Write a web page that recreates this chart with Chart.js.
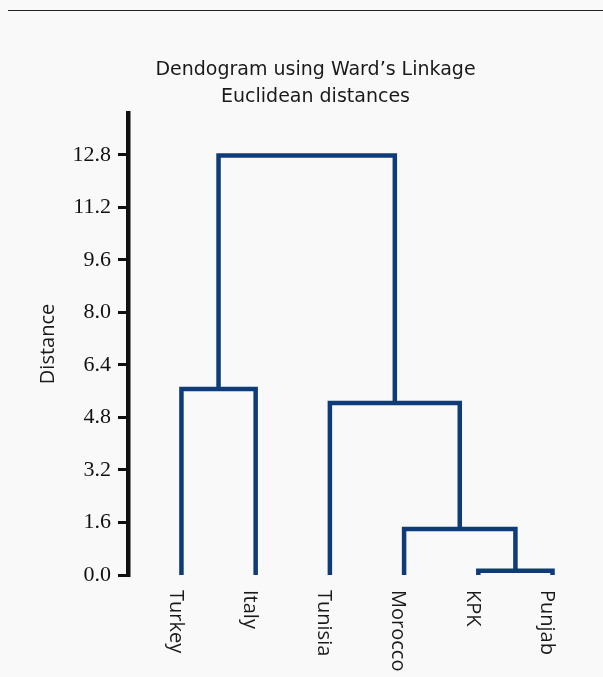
<!DOCTYPE html>
<html>
<head>
<meta charset="utf-8">
<script src="https://cdn.jsdelivr.net/npm/chart.js@4/dist/chart.umd.min.js"></script>
<style>
    body { margin: 0; background: #f9f9f9; }
    #wrap { position: relative; width: 603px; height: 677px; }
    #topRule { position: absolute; top: 10px; left: 8px; right: 0; height: 1px; background: #222; }
    #chart { position: absolute; top: 0; left: 0; }
</style>
</head>
<body>
<div id="wrap">
    <div id="topRule"></div>
    <canvas id="chart" width="603" height="677"></canvas>
</div>
<script>
// Leaves, left to right
const leaves = ["Turkey", "Italy", "Tunisia", "Morocco", "KPK", "Punjab"];

// Linkage: new clusters are numbered after the leaves (6, 7, 8, ...)
const mergeLeft = [4, 3, 2, 0, 9];
const mergeRight = [5, 6, 7, 1, 8];
const mergeHeight = [0.13, 1.40, 5.24, 5.67, 12.78];

// Y axis ticks
const yTicks = [0.0, 1.6, 3.2, 4.8, 6.4, 8.0, 9.6, 11.2, 12.8];

const lineColor = "#0f3c78";

// Work out x position and height of every node
let nodeX = leaves.map((l, i) => i);
let nodeH = leaves.map(() => 0);
let datasets = [];
for (let j = 0; j < mergeLeft.length; j++) {
    const a = mergeLeft[j];
    const b = mergeRight[j];
    const h = mergeHeight[j];
    datasets.push({
        data: [
            { x: nodeX[a], y: nodeH[a] },
            { x: nodeX[a], y: h },
            { x: nodeX[b], y: h },
            { x: nodeX[b], y: nodeH[b] }
        ],
        showLine: true,
        fill: false,
        tension: 0,
        pointRadius: 0,
        borderWidth: 4.5,
        borderColor: lineColor,
        borderJoinStyle: "miter",
        borderCapStyle: "butt"
    });
    nodeX.push((nodeX[a] + nodeX[b]) / 2);
    nodeH.push(h);
}

// Leaf names, written top to bottom under each leaf
const leafLabels = {
    id: "leafLabels",
    afterDraw(chart) {
        const ctx = chart.ctx;
        const xScale = chart.scales.x;
        const bottom = chart.chartArea.bottom;
        ctx.save();
        ctx.font = "20px 'Open Sans'";
        ctx.fillStyle = "#1a1a1a";
        ctx.textAlign = "left";
        ctx.textBaseline = "middle";
        leaves.forEach((name, i) => {
            ctx.save();
            ctx.translate(xScale.getPixelForValue(i) - 6, bottom + 15);
            ctx.rotate(Math.PI / 2);
            ctx.fillText(name, 0, 0);
            ctx.restore();
        });
        ctx.restore();
    }
};

new Chart(document.getElementById("chart"), {
    type: "scatter",
    data: { datasets: datasets },
    plugins: [leafLabels],
    options: {
        responsive: false,
        animation: false,
        layout: {
            padding: { top: 57, left: 28, right: 0, bottom: 102 }
        },
        plugins: {
            legend: { display: false },
            tooltip: { enabled: false },
            title: {
                display: true,
                text: ["Dendogram using Ward\u2019s Linkage", "Euclidean distances"],
                color: "#1a1a1a",
                font: { family: "DejaVu Sans", size: 19, weight: "normal", lineHeight: 1.42 },
                padding: { top: 0, bottom: 2 }
            }
        },
        scales: {
            x: {
                type: "linear",
                min: -0.72,
                max: 5.68,
                display: false
            },
            y: {
                min: 0,
                max: 14.08,
                afterFit: (scale) => { scale.width = 100; },
                afterBuildTicks: (scale) => {
                    scale.ticks = yTicks.map((v) => ({ value: v }));
                },
                ticks: {
                    color: "#111",
                    padding: 7,
                    font: { family: "Liberation Serif", size: 22 },
                    callback: (v) => v.toFixed(1)
                },
                grid: {
                    display: true,
                    drawOnChartArea: false,
                    drawTicks: true,
                    tickLength: 10,
                    color: "#111",
                    lineWidth: 3
                },
                border: { display: true, color: "#111", width: 4.5 },
                title: {
                    display: true,
                    text: "Distance",
                    color: "#1a1a1a",
                    font: { family: "Open Sans", size: 20 },
                    padding: { top: 8 }
                }
            }
        }
    }
});
</script>
</body>
</html>
